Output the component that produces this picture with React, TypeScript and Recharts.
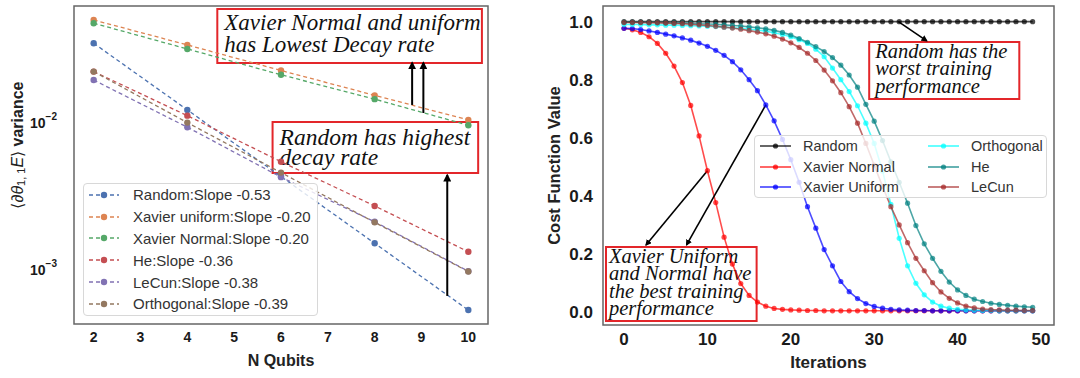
import React from 'react'
import {
  LineChart, Line, XAxis, YAxis, Legend, ReferenceArea, ReferenceLine, Label,
} from 'recharts'

const sansFont = "'Liberation Sans', Arial, sans-serif"
const serifFont = "'Liberation Serif', 'Times New Roman', serif"

// left panel: gradient variance vs qubits (log scale)
const qubits = [2, 4, 6, 8, 10]
const qubitTicks = [2, 3, 4, 5, 6, 7, 8, 9, 10]
const varRandom = [0.0351, 0.01233, 0.00433, 0.00152, 0.000533]
const varXavierUniform = [0.0506, 0.0342, 0.0229, 0.0155, 0.01054]
const varXavierNormal = [0.0481, 0.0321, 0.0214, 0.0146, 0.00969]
const varHe = [0.0225, 0.01127, 0.00547, 0.00273, 0.00133]
const varLeCun = [0.0197, 0.0094, 0.00429, 0.00213, 0.00098]
const varOrthogonal = [0.0225, 0.0101, 0.00461, 0.00211, 0.000975]

const varianceKeys = ['random', 'xavierUniform', 'xavierNormal', 'he', 'lecun', 'orthogonal']
const varianceNames = ['Random', 'Xavier uniform', 'Xavier Normal', 'He', 'LeCun', 'Orthogonal']
const varianceSlopes = [-0.53, -0.2, -0.2, -0.36, -0.38, -0.39]
const varianceColors = ['#4c72b0', '#dd8452', '#55a868', '#c44e52', '#8172b3', '#937860']
const varianceValues = [varRandom, varXavierUniform, varXavierNormal, varHe, varLeCun, varOrthogonal]
const varianceTicks = [0.001, 0.01]

// right panel: cost function vs iterations
const iterations = [
  0, 1, 2, 3, 4, 5, 6, 7, 8, 9, 10, 11, 12, 13, 14, 15, 16, 17, 18, 19, 20, 21, 22, 23, 24,
  25, 26, 27, 28, 29, 30, 31, 32, 33, 34, 35, 36, 37, 38, 39, 40, 41, 42, 43, 44, 45, 46, 47, 48, 49,
]
const costRandom = [
  1, 1, 1, 1, 1, 1, 1, 1, 1, 1, 1, 1, 1, 1, 1, 1, 1, 1, 1, 1, 1, 1, 1, 1, 1,
  1, 1, 1, 1, 1, 1, 1, 1, 1, 1, 1, 1, 1, 1, 1, 1, 1, 1, 1, 1, 1, 1, 1, 1, 1,
]
const costXavierNormal = [
  0.977, 0.972, 0.963, 0.948, 0.925, 0.891, 0.847, 0.790, 0.711, 0.606,
  0.486, 0.376, 0.257, 0.164, 0.097, 0.056, 0.033, 0.019, 0.011, 0.008,
  0.006, 0.005, 0.004, 0.004, 0.003, 0.003, 0.003, 0.003, 0.003, 0.003,
  0.003, 0.003, 0.003, 0.003, 0.003, 0.003, 0.003, 0.003, 0.003, 0.003,
  0.003, 0.003, 0.003, 0.003, 0.003, 0.003, 0.003, 0.003, 0.003, 0.003,
]
const costXavierUniform = [
  0.977, 0.976, 0.973, 0.968, 0.963, 0.957, 0.951, 0.944, 0.936, 0.926,
  0.915, 0.901, 0.884, 0.862, 0.834, 0.800, 0.762, 0.713, 0.658, 0.594,
  0.524, 0.446, 0.362, 0.288, 0.214, 0.158, 0.104, 0.069, 0.045, 0.028,
  0.018, 0.012, 0.008, 0.006, 0.005, 0.004, 0.004, 0.003, 0.003, 0.003,
  0.003, 0.003, 0.003, 0.003, 0.003, 0.003, 0.003, 0.003, 0.003, 0.003,
]
const costOrthogonal = [
  0.990, 0.990, 0.990, 0.989, 0.989, 0.988, 0.988, 0.987, 0.986, 0.985,
  0.984, 0.983, 0.981, 0.979, 0.977, 0.974, 0.971, 0.967, 0.962, 0.956,
  0.948, 0.938, 0.925, 0.905, 0.879, 0.840, 0.800, 0.759, 0.710, 0.650,
  0.580, 0.485, 0.370, 0.253, 0.158, 0.098, 0.058, 0.033, 0.019, 0.012,
  0.008, 0.006, 0.005, 0.004, 0.004, 0.003, 0.003, 0.003, 0.003, 0.003,
]
const costHe = [
  0.998, 0.998, 0.998, 0.997, 0.997, 0.996, 0.996, 0.995, 0.994, 0.993,
  0.992, 0.991, 0.989, 0.987, 0.985, 0.982, 0.979, 0.975, 0.970, 0.963,
  0.954, 0.942, 0.929, 0.914, 0.897, 0.876, 0.850, 0.816, 0.774, 0.715,
  0.657, 0.590, 0.517, 0.446, 0.374, 0.297, 0.234, 0.184, 0.139, 0.102,
  0.075, 0.056, 0.043, 0.035, 0.029, 0.025, 0.022, 0.019, 0.017, 0.015,
]
const costLeCun = [
  0.997, 0.997, 0.997, 0.996, 0.996, 0.995, 0.994, 0.993, 0.991, 0.989,
  0.987, 0.984, 0.981, 0.978, 0.974, 0.969, 0.964, 0.958, 0.950, 0.940,
  0.927, 0.911, 0.891, 0.866, 0.833, 0.796, 0.755, 0.707, 0.650, 0.580,
  0.505, 0.432, 0.362, 0.299, 0.238, 0.184, 0.141, 0.100, 0.068, 0.046,
  0.030, 0.019, 0.013, 0.009, 0.007, 0.006, 0.005, 0.005, 0.004, 0.004,
]

const costKeys = ['random', 'xavierNormal', 'xavierUniform', 'orthogonal', 'he', 'lecun']
const costNames = ['Random', 'Xavier Normal', 'Xavier Uniform', 'Orthogonal', 'He', 'LeCun']
const costColors = ['#000000', '#ff0000', '#0000ff', '#00ffff', '#008080', '#a52a2a']
const costValues = [costRandom, costXavierNormal, costXavierUniform, costOrthogonal, costHe, costLeCun]
const iterationTicks = [0, 10, 20, 30, 40, 50]
const costTicks = [0, 0.2, 0.4, 0.6, 0.8, 1.0]

const varianceData = qubits.map((n, i) => {
  const row: Record<string, number> = { n }
  varianceKeys.forEach((k, j) => { row[k] = varianceValues[j][i] })
  return row
})

const costData = iterations.map((it, i) => {
  const row: Record<string, number> = { it }
  costKeys.forEach((k, j) => { row[k] = costValues[j][i] })
  return row
})

const qubitDomain = [1.58, 10.42]
const varianceDomain = [0.000428, 0.063]
const iterationDomain = [-2.52, 51.56]
const costDomain = [-0.046, 1.054]

function BoxText({ viewBox, lines, size, lead, padX, padY }: any) {
  const x = viewBox.x + padX
  return (
    <text x={x} y={viewBox.y + padY} fontFamily={serifFont} fontStyle="italic" fontSize={size} fill="#111">
      {lines.map((line: string, i: number) => (
        <tspan key={i} x={x} dy={i === 0 ? 0 : lead}>{line}</tspan>
      ))}
    </text>
  )
}

const arrowShape = (width: number) => (p: any) => (
  <line x1={p.x1} y1={p.y1} x2={p.x2} y2={p.y2} stroke="#000" strokeWidth={width} markerEnd="url(#arrowHead)" />
)

function PowerTick({ x, y, payload }: any) {
  const exp = Math.round(Math.log10(payload.value))
  return (
    <text x={x - 9} y={y + 5} textAnchor="end" fontFamily={sansFont} fontWeight="bold" fontSize={14} fill="#1a1a1a">
      10<tspan dy={-8} fontSize={10}>{`\u2212${Math.abs(exp)}`}</tspan>
    </text>
  )
}

function VarianceTitle({ viewBox }: any) {
  const cx = viewBox.x + 17
  const cy = viewBox.y + viewBox.height / 2 - 20
  return (
    <text transform={`translate(${cx},${cy}) rotate(-90)`} textAnchor="middle" dominantBaseline="central"
      fontFamily={sansFont} fontSize={16} fill="#222">
      <tspan>⟨∂</tspan>
      <tspan fontStyle="italic">θ</tspan>
      <tspan fontSize={11} dy={4}>1, 1</tspan>
      <tspan fontStyle="italic" dy={-4}>E</tspan>
      <tspan>⟩ </tspan>
      <tspan fontWeight="bold">variance</tspan>
    </text>
  )
}

function VarianceLegend() {
  return (
    <div style={{
      width: 235, height: 133, boxSizing: 'border-box', background: 'rgba(255,255,255,0.8)',
      border: '1px solid #d8d8d8', borderRadius: 4, padding: '0 0 0 5px',
      fontFamily: sansFont, fontSize: 15, color: '#333',
    }}>
      {varianceNames.map((name, i) => (
        <div key={name} style={{ display: 'flex', alignItems: 'center', height: 21.8 }}>
          <svg width={30} height={8}>
            <line x1={0} y1={4} x2={30} y2={4} stroke={varianceColors[i]} strokeWidth={1.3} strokeDasharray="4 3" />
            <circle cx={15} cy={4} r={3.2} fill={varianceColors[i]} />
          </svg>
          <span style={{ marginLeft: 14 }}>{`${name}:Slope ${varianceSlopes[i].toFixed(2)}`}</span>
        </div>
      ))}
    </div>
  )
}

function CostLegend() {
  return (
    <div style={{
      width: 293, height: 63, boxSizing: 'border-box', background: 'rgba(255,255,255,0.8)',
      border: '1px solid #d8d8d8', borderRadius: 4, padding: '0 0 0 5px',
      fontFamily: sansFont, fontSize: 14.5, color: '#333',
      display: 'grid', gridTemplateColumns: '168px 120px', gridAutoFlow: 'column', gridTemplateRows: 'repeat(3, 20.5px)',
    }}>
      {costNames.map((name, i) => (
        <div key={name} style={{ display: 'flex', alignItems: 'center', whiteSpace: 'nowrap' }}>
          <svg width={31} height={8}>
            <line x1={0} y1={4} x2={31} y2={4} stroke={costColors[i]} strokeOpacity={0.75} strokeWidth={1.6} />
            <circle cx={15.5} cy={4} r={2.6} fill={costColors[i]} fillOpacity={0.75} />
          </svg>
          <span style={{ marginLeft: 12 }}>{name}</span>
        </div>
      ))}
    </div>
  )
}

function VarianceChart() {
  return (
    <LineChart width={540} height={378} data={varianceData} margin={{ top: 6, right: 52, bottom: 0, left: 0 }}>
      <XAxis dataKey="n" type="number" domain={qubitDomain} ticks={qubitTicks} allowDataOverflow
        height={54} axisLine={false} tickLine={false}
        tick={{ fontSize: 14, fontWeight: 'bold', fill: '#1a1a1a', fontFamily: sansFont }}
        label={{ value: 'N Qubits', position: 'insideBottom', offset: 12, fontSize: 16, fontWeight: 'bold', fill: '#222', fontFamily: sansFont }} />
      <YAxis scale="log" type="number" domain={varianceDomain} ticks={varianceTicks} allowDataOverflow
        width={74} axisLine={false} tickLine={false} tick={<PowerTick />}>
        <Label content={<VarianceTitle />} />
      </YAxis>
      {varianceKeys.map((k, i) => (
        <Line key={k} dataKey={k} stroke={varianceColors[i]} strokeWidth={1.3} strokeDasharray="4 3"
          dot={{ r: 3.2, fill: varianceColors[i], stroke: 'none' }} isAnimationActive={false} />
      ))}
      <ReferenceArea x1={qubitDomain[0]} x2={qubitDomain[1]} y1={varianceDomain[0]} y2={varianceDomain[1]}
        fill="none" stroke="#666" strokeWidth={1.5} ifOverflow="visible" />
      <ReferenceArea x1={4.64} x2={10.29} y1={0.02576} y2={0.0601} fill="none" stroke="#e3262a" strokeWidth={2}
        ifOverflow="visible"
        label={<BoxText lines={['Xavier Normal and uniform', 'has Lowest Decay rate']} size={23} lead={22} padX={7} padY={21} />} />
      <ReferenceArea x1={5.82} x2={10.21} y1={0.00458} y2={0.0102} fill="none" stroke="#e3262a" strokeWidth={2}
        ifOverflow="visible"
        label={<BoxText lines={['Random has highest', 'decay rate']} size={23.5} lead={20} padX={7} padY={23} />} />
      <ReferenceLine segment={[{ x: 8.8, y: 0.01333 }, { x: 8.8, y: 0.0258 }]} ifOverflow="visible" shape={arrowShape(2)} />
      <ReferenceLine segment={[{ x: 9.04, y: 0.01175 }, { x: 9.04, y: 0.0258 }]} ifOverflow="visible" shape={arrowShape(2)} />
      <ReferenceLine segment={[{ x: 9.55, y: 0.000665 }, { x: 9.55, y: 0.00443 }]} ifOverflow="visible" shape={arrowShape(2)} />
      <Legend layout="vertical" align="center" verticalAlign="middle" wrapperStyle={{ left: 83, top: 183 }}
        content={() => <VarianceLegend />} />
    </LineChart>
  )
}

function CostChart() {
  return (
    <LineChart width={540} height={378} data={costData} margin={{ top: 6, right: 26, bottom: 0, left: 0 }}>
      <XAxis dataKey="it" type="number" domain={iterationDomain} ticks={iterationTicks} allowDataOverflow
        height={53} axisLine={false} tickLine={false}
        tick={{ fontSize: 17, fontWeight: 'bold', fill: '#1a1a1a', fontFamily: sansFont }}
        label={{ value: 'Iterations', position: 'insideBottom', offset: 10, fontSize: 17, fontWeight: 'bold', fill: '#222', fontFamily: sansFont }} />
      <YAxis type="number" domain={costDomain} ticks={costTicks} allowDataOverflow width={63}
        axisLine={false} tickLine={false} tickMargin={4} tickFormatter={(v: number) => v.toFixed(1)}
        tick={{ fontSize: 17, fontWeight: 'bold', fill: '#1a1a1a', fontFamily: sansFont }}
        label={{ value: 'Cost Function Value', angle: -90, position: 'insideLeft', offset: 14, fontSize: 16.5, fontWeight: 'bold', fill: '#222', fontFamily: sansFont, style: { textAnchor: 'middle' } }} />
      {costKeys.map((k, i) => (
        <Line key={k} dataKey={k} stroke={costColors[i]} strokeOpacity={0.7} strokeWidth={1.6}
          dot={{ r: 2.6, fill: costColors[i], fillOpacity: 0.7, stroke: 'none' }} isAnimationActive={false} />
      ))}
      <ReferenceArea x1={iterationDomain[0]} x2={iterationDomain[1]} y1={costDomain[0]} y2={costDomain[1]}
        fill="none" stroke="#666" strokeWidth={1.5} ifOverflow="visible" />
      <ReferenceArea x1={29.4} x2={47.4} y1={0.733} y2={0.93} fill="none" stroke="#e3262a" strokeWidth={2}
        ifOverflow="visible"
        label={<BoxText lines={['Random has the', 'worst training', 'performance']} size={20.5} lead={17.5} padX={6} padY={16} />} />
      <ReferenceArea x1={-2.16} x2={15.9} y1={-0.032} y2={0.223} fill="none" stroke="#e3262a" strokeWidth={2}
        ifOverflow="visible"
        label={<BoxText lines={['Xavier Uniform', 'and Normal have', 'the best training', 'performance']} size={20.5} lead={17.3} padX={3} padY={16} />} />
      <ReferenceLine segment={[{ x: 32.9, y: 1.0 }, { x: 36.3, y: 0.934 }]} ifOverflow="visible" shape={arrowShape(1.6)} />
      <ReferenceLine segment={[{ x: 10, y: 0.486 }, { x: 2.64, y: 0.23 }]} ifOverflow="visible" shape={arrowShape(1.6)} />
      <ReferenceLine segment={[{ x: 17, y: 0.713 }, { x: 7.5, y: 0.23 }]} ifOverflow="visible" shape={arrowShape(1.6)} />
      <Legend layout="vertical" align="center" verticalAlign="middle" wrapperStyle={{ left: 214, top: 135 }}
        content={() => <CostLegend />} />
    </LineChart>
  )
}

export default function App() {
  return (
    <div style={{ position: 'absolute', left: 0, top: 0, width: 1080, height: 378, background: '#fff' }}>
      <svg width={0} height={0} style={{ position: 'absolute' }}>
        <defs>
          <marker id="arrowHead" viewBox="0 0 10 10" refX={8} refY={5} markerWidth={4} markerHeight={4} orient="auto">
            <path d="M0,0 L10,5 L0,10 z" fill="#000" />
          </marker>
        </defs>
      </svg>
      <div style={{ position: 'absolute', left: 0, top: 0 }}>
        <VarianceChart />
      </div>
      <div style={{ position: 'absolute', left: 540, top: 0 }}>
        <CostChart />
      </div>
    </div>
  )
}
